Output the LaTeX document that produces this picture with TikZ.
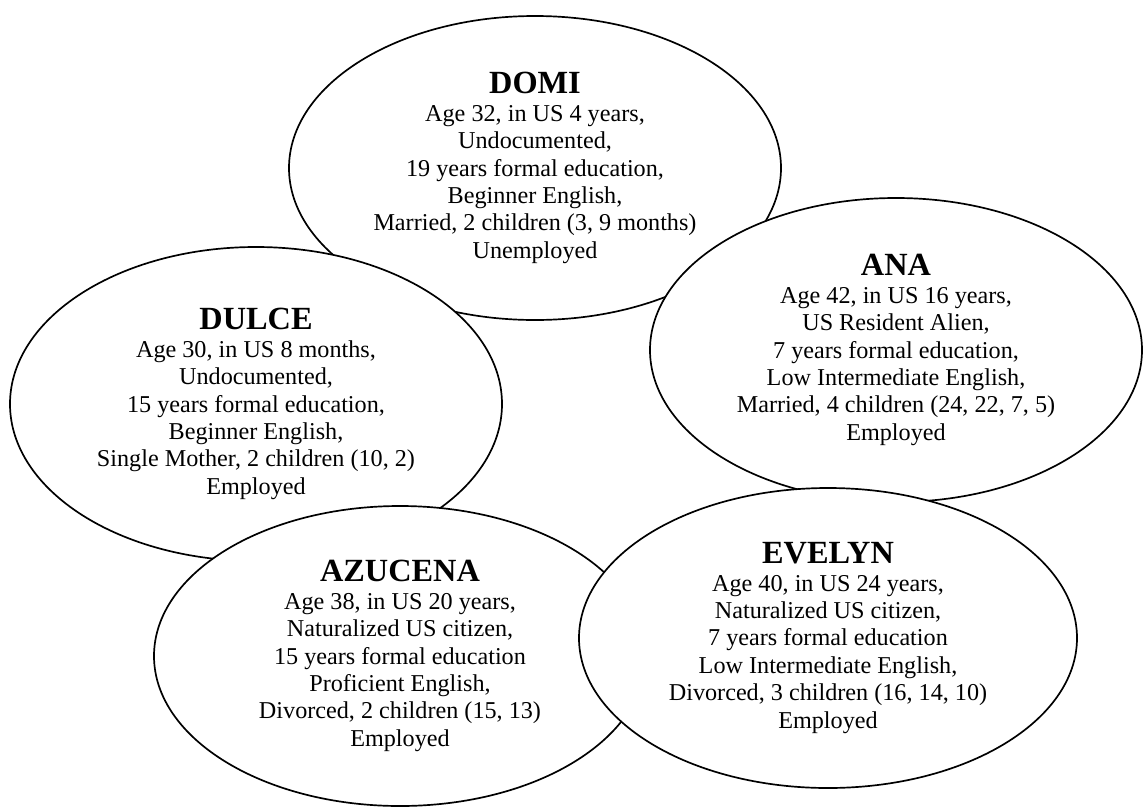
\documentclass[tikz,border=0pt]{standalone}
\usepackage{fontspec}
\setmainfont{Liberation Serif}
\usetikzlibrary{shapes.geometric}

\newcommand{\who}[1]{{\fontsize{23}{22}\selectfont\bfseries #1}}

\begin{document}
\begin{tikzpicture}[line width=1.2pt, main/.style = {draw, ellipse, fill=white, inner sep=0pt, minimum width=12.3cm, minimum height=7.6cm, align=center, font=\fontsize{17.2}{19.5}\selectfont}]
    \useasboundingbox (0,0) rectangle (28.6,-20.2);
    \node[main] (domi) at (13.375,-4.2) {\who{DOMI}\\ Age 32, in US 4 years,\\ Undocumented,\\ 19 years formal education,\\ Beginner English,\\ Married, 2 children (3, 9 months)\\ Unemployed};
    \node[main] (ana) at (22.4,-8.75) {\who{ANA}\\ Age 42, in US 16 years,\\ US Resident Alien,\\ 7 years formal education,\\ Low Intermediate English,\\ Married, 4 children (24, 22, 7, 5)\\ Employed};
    \node[main, minimum height=7.85cm] (dulce) at (6.4,-10.1) {\who{DULCE}\\ Age 30, in US 8 months,\\ Undocumented,\\ 15 years formal education,\\ Beginner English,\\ Single Mother, 2 children (10, 2)\\ Employed};
    \node[main, minimum height=7.5cm] (azucena) at (10.0,-16.4) {\who{AZUCENA}\\ Age 38, in US 20 years,\\ Naturalized US citizen,\\ 15 years formal education\\ Proficient English,\\ Divorced, 2 children (15, 13)\\ Employed};
    \node[main, minimum width=12.45cm, minimum height=7.5cm] (evelyn) at (20.7,-15.95) {\who{EVELYN}\\ Age 40, in US 24 years,\\ Naturalized US citizen,\\ 7 years formal education\\ Low Intermediate English,\\ Divorced, 3 children (16, 14, 10)\\ Employed};
\end{tikzpicture}
\end{document}
